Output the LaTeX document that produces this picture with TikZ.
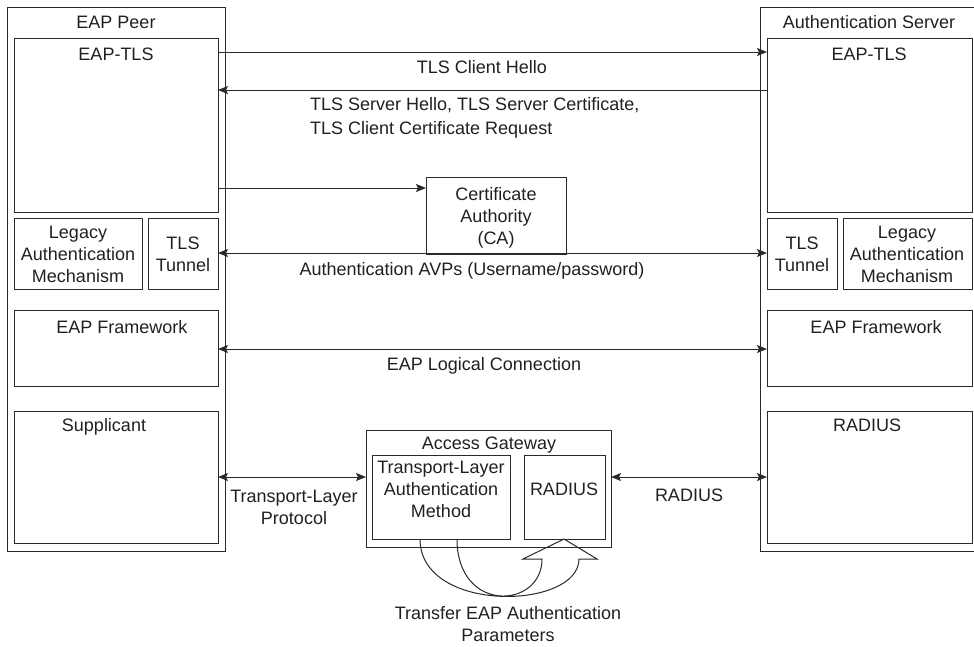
\documentclass[tikz,border=0pt]{standalone}
\usepackage{fontspec}
\setmainfont{Liberation Sans}
\usetikzlibrary{arrows.meta,fit}
\definecolor{linec}{HTML}{2A2A2A}
\definecolor{txtc}{HTML}{231F20}
\newcommand\mlines[1]{\begin{tabular}[t]{@{}c@{}}#1\end{tabular}}
\newcommand\mlinesl[1]{\begin{tabular}[t]{@{}l@{}}#1\end{tabular}}
\begin{document}
\begin{tikzpicture}[x=1pt,y=-1pt,
  box/.style={draw=linec,line width=1pt,inner sep=0pt,outer sep=0pt},
  lbl/.style={text=txtc,inner sep=0pt,anchor=base,font=\fontsize{18}{22}\selectfont},
  arr/.style={draw=linec,line width=1pt,-{Stealth[length=10pt,width=8pt,inset=2pt]}},
  darr/.style={draw=linec,line width=1pt,{Stealth[length=10pt,width=8pt,inset=2pt]}-{Stealth[length=10pt,width=8pt,inset=2pt]}}]
\useasboundingbox (0,0) rectangle (974,646);
% row coordinates
\coordinate (r52) at (0,52);
\coordinate (r90) at (0,90);
\coordinate (r188) at (0,188);
\coordinate (r253) at (0,253);
\coordinate (r349) at (0,349);
\coordinate (r477) at (0,477);
% boxes
\node[box,fit={(7,7)(225,551)}] (peer) {};
\node[box,fit={(760,7)(978,551)}] (server) {};
\node[box,fit={(14,38)(218,212)}] (ltls) {};
\node[box,fit={(14,218)(142,289)}] (llegacy) {};
\node[box,fit={(148,218)(218,289)}] (ltun) {};
\node[box,fit={(14,310)(218,386)}] (lfw) {};
\node[box,fit={(14,411)(218,543)}] (supp) {};
\node[box,fit={(767,38)(972,212)}] (rtls) {};
\node[box,fit={(767,218)(837,289)}] (rtun) {};
\node[box,fit={(843,218)(972,289)}] (rlegacy) {};
\node[box,fit={(767,310)(972,386)}] (rfw) {};
\node[box,fit={(767,411)(972,543)}] (rrad) {};
\node[box,fit={(426,177)(566,254)}] (ca) {};
\node[box,fit={(366,430)(611,547)}] (gw) {};
\node[box,fit={(372,455)(510,539)}] (tlam) {};
\node[box,fit={(524,455)(605,539)}] (grad) {};
% box texts
\node[lbl] (tpeer) at (116,28) {EAP Peer};
\node[lbl] (tserver) at (869,28) {Authentication Server};
\node[lbl] (tltls) at (116,60) {EAP-TLS};
\node[lbl] (trtls) at (869,60) {EAP-TLS};
\node[lbl] (tlleg) at (78,238) {\mlines{Legacy\\Authentication\\Mechanism}};
\node[lbl] (tltun) at (183,249) {\mlines{TLS\\Tunnel}};
\node[lbl] (trtun) at (802,249) {\mlines{TLS\\Tunnel}};
\node[lbl] (trleg) at (907,238) {\mlines{Legacy\\Authentication\\Mechanism}};
\node[lbl] (tlfw) at (122,333) {EAP Framework};
\node[lbl] (trfw) at (876,333) {EAP Framework};
\node[lbl] (tsupp) at (104,431) {Supplicant};
\node[lbl] (trrad) at (867,431) {RADIUS};
\node[lbl] (tca) at (496,200) {\mlines{Certificate\\Authority\\(CA)}};
\node[lbl] (tgw) at (489,449) {Access Gateway};
\node[lbl] (ttlam) at (441,473) {\mlines{Transport-Layer\\Authentication\\Method}};
\node[lbl] (tgrad) at (564,495) {RADIUS};
% connector labels
\node[lbl] (lhello) at (482,73) {TLS Client Hello};
\node[lbl,anchor=base west] (lshello) at (310,110) {\mlinesl{TLS Server Hello, TLS Server Certificate,\\[2pt]TLS Client Certificate Request}};
\node[lbl] (lavp) at (472,275) {Authentication AVPs (Username/password)};
\node[lbl] (leap) at (484,370) {EAP Logical Connection};
\node[lbl] (ltp) at (294,502) {\mlines{Transport-Layer\\Protocol}};
\node[lbl] (lrad) at (689,501) {RADIUS};
\node[lbl] (ltr) at (508,619) {\mlines{Transfer EAP Authentication\\Parameters}};
% connectors
\draw[arr] (ltls.east |- r52) -- (rtls.west |- r52);
\draw[arr] (rtls.west |- r90) -- (ltls.east |- r90);
\draw[arr] (ltls.east |- r188) -- (ca.west |- r188);
\draw[darr] (ltun.east |- r253) -- (rtun.west |- r253);
\draw[darr] (lfw.east |- r349) -- (rfw.west |- r349);
\draw[darr] (supp.east |- r477) -- (gw.west |- r477);
\draw[darr] (gw.east |- r477) -- (rrad.west |- r477);
% hollow U-turn arrow
\draw[linec,line width=1pt,line join=miter]
  (420,539) .. controls (420,614) and (579,610) .. (579,559)
  -- (597,559) -- (564,539) -- (523,559) -- (542,559)
  .. controls (542,609) and (457,614) .. (457,539);
\end{tikzpicture}
\end{document}
